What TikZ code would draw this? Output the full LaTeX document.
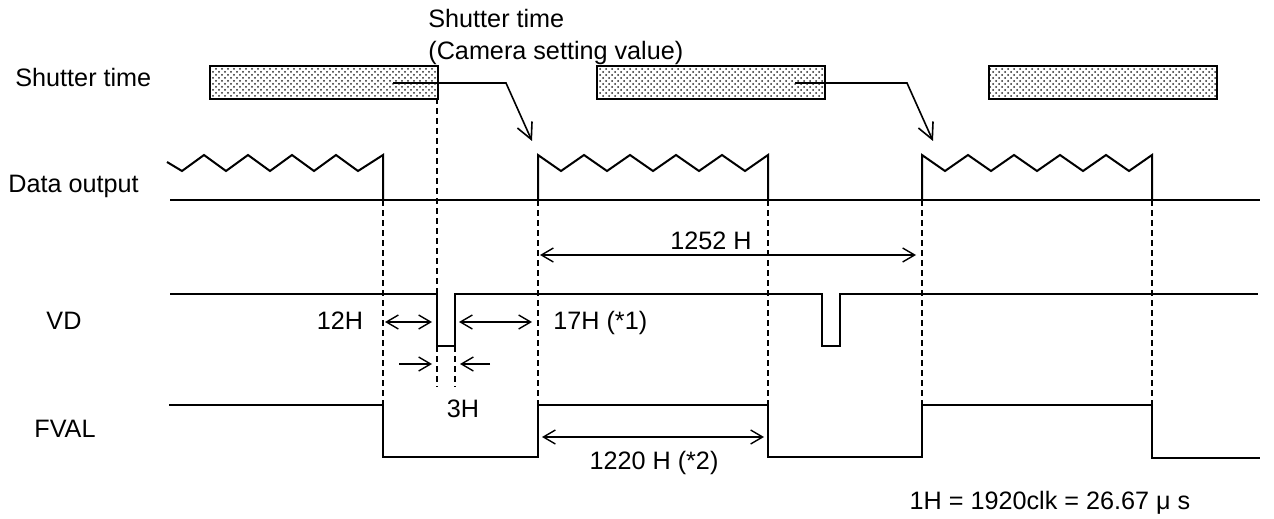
\documentclass[tikz,border=0pt]{standalone}
\usepackage{fontspec}
\setmainfont{Liberation Sans}
\usetikzlibrary{arrows.meta, patterns}

\begin{document}
\begin{tikzpicture}[
    x=0.5pt, y=-0.5pt,
    font=\fontsize{12.6}{16}\selectfont,
    lbl/.style={inner sep=0pt, anchor=base west},
    val/.style={inner sep=0pt, anchor=base},
    shutter/.style={rectangle, draw, line width=1pt, anchor=north west,
                    minimum width=114pt, minimum height=16.5pt, inner sep=0pt,
                    pattern=crosshatch dots, pattern color=black!85},
    wave/.style={line width=1pt},
    guide/.style={line width=0.7pt, dash pattern=on 3pt off 2pt},
    dim/.style={>={Straight Barb[length=6pt, width=7pt]}, line width=0.7pt},
    leader/.style={->, >={Straight Barb[length=8pt, width=8pt]}, line width=0.8pt}
  ]
    \useasboundingbox (0,0) rectangle (1274,519);

    % signal names
    \node[lbl] (shlbl)   at (15,87)  {Shutter time};
    \node[lbl] (datalbl) at (8,192)  {Data output};
    \node[val] (vdlbl)   at (64,329) {VD};
    \node[lbl] (fvallbl) at (34,437) {FVAL};
    \node[inner sep=0pt, anchor=north west, align=left] (setlbl) at (428,9)
      {Shutter time\\(Camera setting value)};

    % exposure boxes
    \node[shutter] (sh1) at (209,65) {};
    \node[shutter] (sh2) at (596,65) {};
    \node[shutter] (sh3) at (988,65) {};

    \coordinate (lead1) at (393,83);
    \coordinate (bend1) at (506,83);
    \coordinate (tip1)  at (532,141);
    \coordinate (lead2) at (795,83);
    \coordinate (bend2) at (907,83);
    \coordinate (tip2)  at (933,141);
    \draw[leader] (lead1) -- (bend1) -- (tip1);
    \draw[leader] (lead2) -- (bend2) -- (tip2);

    % data output
    \draw[wave] (170,200) -- (1260,200);
    \draw[wave] (167,162) -- (182,171)
      \foreach \k in {1,...,4} { -- ++(22,-16) -- ++(22,16) } -- (383,155) -- (383,200);
    \draw[wave] (538,200) -- (538,155)
      \foreach \k in {1,...,5} { -- ++(23,16) -- ++(23,-16) } -- (768,200);
    \draw[wave] (922,200) -- (922,155)
      \foreach \k in {1,...,5} { -- ++(23,16) -- ++(23,-16) } -- (1152,200);

    % VD
    \draw[wave] (170,294) -- (437,294) -- (437,346) -- (455,346) -- (455,294)
      -- (822,294) -- (822,346) -- (840,346) -- (840,294) -- (1258,294);

    % FVAL
    \draw[wave] (169,405) -- (383,405) -- (383,457) -- (538,457) -- (538,405)
      -- (768,405) -- (768,457) -- (922,457) -- (922,405) -- (1152,405)
      -- (1152,458) -- (1260,458);

    % guides
    \draw[guide] (383,200) -- (383,405);
    \draw[guide] (437,98)  -- (437,294);
    \draw[guide] (437,346) -- (437,387);
    \draw[guide] (455,346) -- (455,387);
    \draw[guide] (538,200) -- (538,405);
    \draw[guide] (768,200) -- (768,405);
    \draw[guide] (922,200) -- (922,405);
    \draw[guide] (1152,200) -- (1152,405);

    % timings
    \coordinate (f1) at (540,255);
    \coordinate (f2) at (916,255);
    \coordinate (a1) at (385,322);
    \coordinate (a2) at (432,322);
    \coordinate (b1) at (459,322);
    \coordinate (b2) at (532,322);
    \coordinate (p1) at (399,364);
    \coordinate (p2) at (432,364);
    \coordinate (q1) at (490,364);
    \coordinate (q2) at (460,364);
    \coordinate (v1) at (542,437);
    \coordinate (v2) at (764,437);
    \draw[dim, <->] (f1) -- (f2);
    \draw[dim, <->] (a1) -- (a2);
    \draw[dim, <->] (b1) -- (b2);
    \draw[dim, ->]  (p1) -- (p2);
    \draw[dim, ->]  (q1) -- (q2);
    \draw[dim, <->] (v1) -- (v2);

    \node[val] (t1252) at (711,249) {1252 H};
    \node[val] (t12)   at (340,329) {12H};
    \node[lbl] (t17)   at (553,329) {17H (*1)};
    \node[val] (t3)    at (463,417) {3H};
    \node[val] (t1220) at (654,469) {1220 H (*2)};
    \node[val] (tclk)  at (1050,509) {1H = 1920clk = 26.67 μ s};
  \end{tikzpicture}
\end{document}
